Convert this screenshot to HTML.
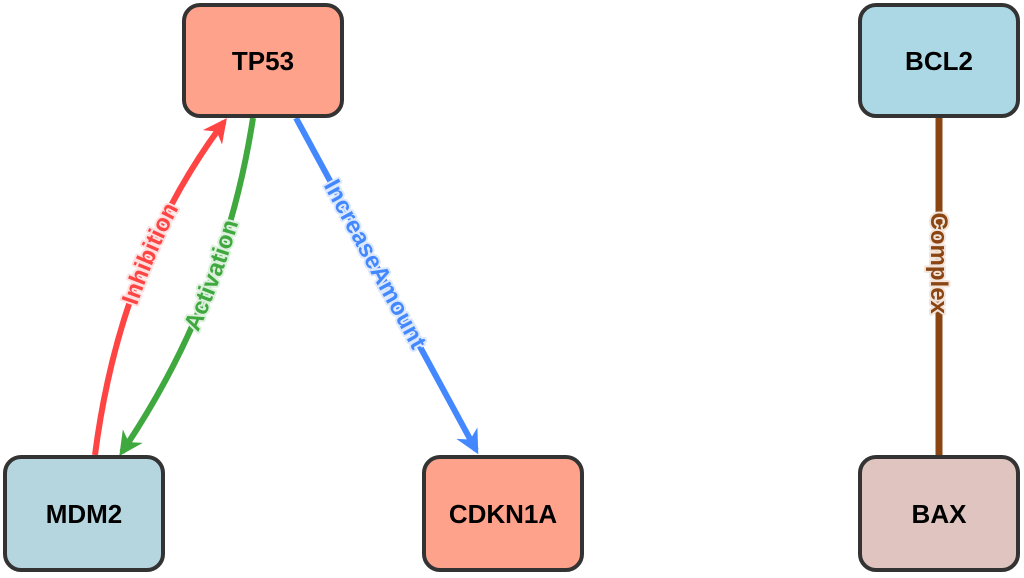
<!DOCTYPE html>
<html><head><meta charset="utf-8"><style>
html,body{margin:0;padding:0;background:#fff;}
svg{display:block;}
.t{font-family:"Liberation Sans",Arial,sans-serif;font-weight:700;}
.n{font-size:26px;}
.e{font-size:24px;}
</style></head><body>
<svg width="1024" height="578" viewBox="0 0 1024 578" xmlns="http://www.w3.org/2000/svg">
<defs>
<marker id="ar" viewBox="0 0 10 10" refX="8" refY="5" markerWidth="4" markerHeight="4" orient="auto" markerUnits="strokeWidth"><path d="M0,0 L10,5 L0,10 L3,5 z" fill="#ff4444"/></marker>
<marker id="ag" viewBox="0 0 10 10" refX="8" refY="5" markerWidth="4" markerHeight="4" orient="auto" markerUnits="strokeWidth"><path d="M0,0 L10,5 L0,10 L3,5 z" fill="#3fa83f"/></marker>
<marker id="ab" viewBox="0 0 10 10" refX="8" refY="5" markerWidth="4" markerHeight="4" orient="auto" markerUnits="strokeWidth"><path d="M0,0 L10,5 L0,10 L3,5 z" fill="#4488ff"/></marker>
<path id="pr" d="M95,455 Q120,260 224,122"/>
<path id="pgr" d="M122,452 Q225,300 253,118"/>
<path id="pb" d="M296,118 L476,450"/>
<path id="pc" d="M939,117 L939,457"/>
</defs>
<path d="M95,455 Q120,260 224,122" fill="none" stroke="#ff4444" stroke-width="6" marker-end="url(#ar)"/>
<path d="M253,118 Q225,300 122,452" fill="none" stroke="#3fa83f" stroke-width="6" marker-end="url(#ag)"/>
<path d="M296,118 L476,450" fill="none" stroke="#4488ff" stroke-width="6" marker-end="url(#ab)"/>
<line x1="939" y1="117" x2="939" y2="457" stroke="#8b4513" stroke-width="7"/>
<g class="t e" stroke-width="4" stroke-linejoin="round">
<text fill="#fde0e0" stroke="#fde0e0" dy="8"><textPath href="#pr" startOffset="58%" text-anchor="middle">Inhibition</textPath></text>
<text fill="#ddf0dd" stroke="#ddf0dd" dy="8"><textPath href="#pgr" startOffset="55%" text-anchor="middle">Activation</textPath></text>
<text fill="#dce8fc" stroke="#dce8fc" dy="8"><textPath href="#pb" startOffset="44%" text-anchor="middle">IncreaseAmount</textPath></text>
<text fill="#f2e4da" stroke="#f2e4da" dy="8"><textPath href="#pc" startOffset="43%" text-anchor="middle">Complex</textPath></text>
</g>
<g class="t e">
<text fill="#ff4444" dy="8"><textPath href="#pr" startOffset="58%" text-anchor="middle">Inhibition</textPath></text>
<text fill="#3fa83f" dy="8"><textPath href="#pgr" startOffset="55%" text-anchor="middle">Activation</textPath></text>
<text fill="#4488ff" dy="8"><textPath href="#pb" startOffset="44%" text-anchor="middle">IncreaseAmount</textPath></text>
<text fill="#8b4513" dy="8"><textPath href="#pc" startOffset="43%" text-anchor="middle">Complex</textPath></text>
</g>
<g stroke="#333" stroke-width="4">
<rect x="184" y="5" width="158" height="111" rx="16" fill="#ffa28c"/>
<rect x="860" y="5" width="158" height="111" rx="16" fill="#acd8e5"/>
<rect x="5" y="457" width="158" height="113" rx="16" fill="#b5d5df"/>
<rect x="424" y="457" width="158" height="113" rx="16" fill="#ffa28c"/>
<rect x="860" y="457" width="158" height="113" rx="16" fill="#dfc4bf"/>
</g>
<g class="t n" fill="#000" text-anchor="middle">
<text x="263" y="70">TP53</text>
<text x="939" y="70">BCL2</text>
<text x="84" y="523">MDM2</text>
<text x="503" y="523">CDKN1A</text>
<text x="939" y="523">BAX</text>
</g>
</svg>
</body></html>
